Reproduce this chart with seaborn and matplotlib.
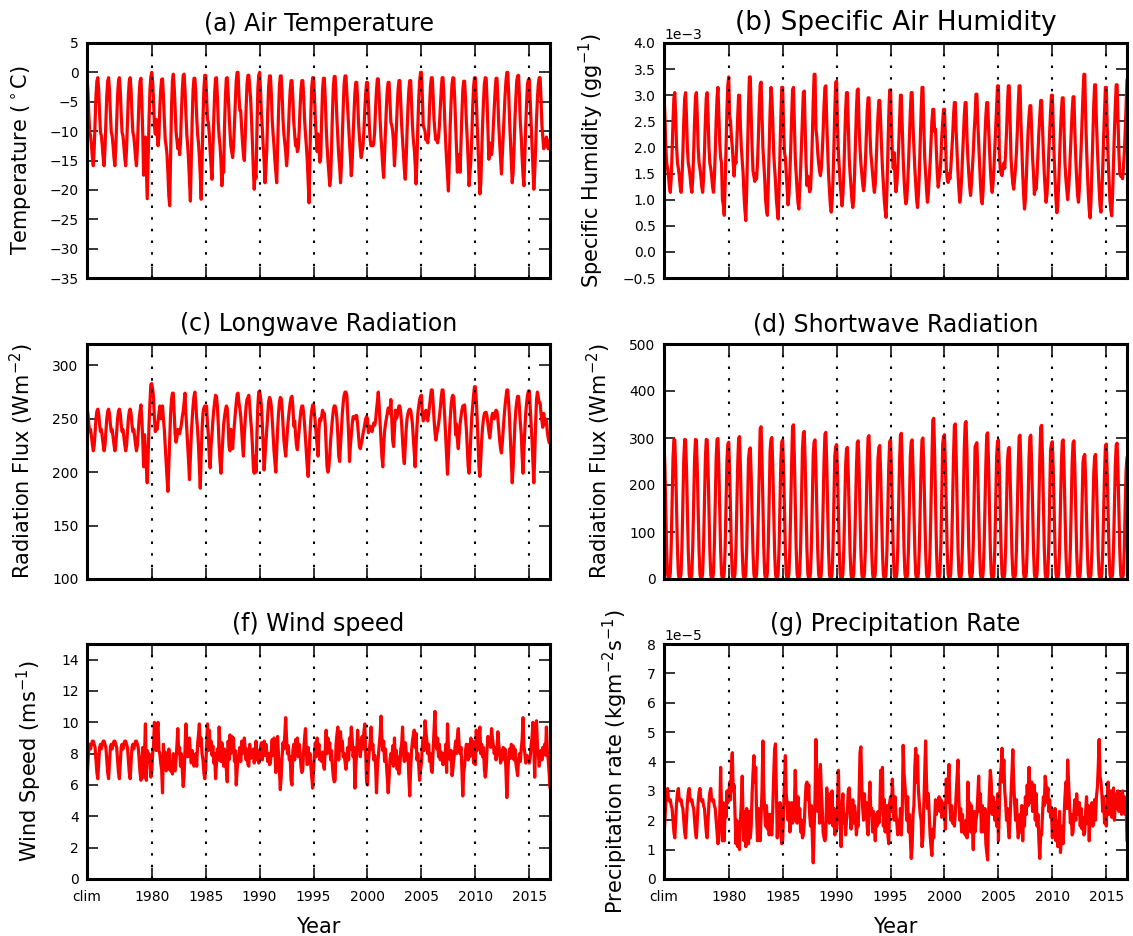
import numpy as np
import matplotlib
matplotlib.use("Agg")
import matplotlib.pyplot as plt
import seaborn as sns

# ---------------------------------------------------------------------------
# Forcing time series: five repeated climatological years (1974-1978, labelled
# "clim") followed by monthly values from Jan 1979 to Dec 2016.
# ---------------------------------------------------------------------------
start_year = 1974
clim_years = 5
tick_years = [1974, 1980, 1985, 1990, 1995, 2000, 2005, 2010, 2015]
tick_labels = ["clim", "1980", "1985", "1990", "1995", "2000", "2005", "2010", "2015"]
marker_years = [1980, 1985, 1990, 1995, 2000, 2005, 2010, 2015]

# Air temperature (deg C)
clim_air_temp = [-0.9, -3.0, -7.0, -10.2, -10.8, -12.5, -14.5, -15.9, -13.0, -8.5, -4.0, -1.5]
air_temp = [
    -1.0, -5.0, -10.5, -17.5, -12.0, -11.0, -16.0, -21.5, -15.0, -8.0, -3.0, -0.8,   # 1979
    0.0, -1.5, -4.8, -9.0, -10.5, -8.0, -10.5, -12.5, -11.0, -6.0, -3.0, -1.2,       # 1980
    -1.1, -4.0, -8.0, -11.4, -12.5, -14.0, -17.0, -21.0, -22.7, -14.0, -6.0, -1.5,
    -0.3, -2.5, -6.0, -10.0, -11.5, -13.0, -11.5, -14.0, -12.0, -7.0, -3.0, -0.5,
    -0.3, -3.0, -7.0, -10.5, -12.5, -15.0, -18.5, -21.9, -15.0, -8.0, -3.0, -1.0,
    -1.0, -3.5, -7.5, -10.5, -12.0, -14.5, -17.5, -21.6, -15.0, -8.0, -3.0, -0.5,
    -0.5, -4.0, -8.0, -8.5, -10.5, -13.5, -16.0, -18.2, -13.0, -8.0, -3.5, -1.0,     # 1985
    -0.9, -4.0, -8.5, -11.0, -12.5, -15.0, -19.3, -16.5, -17.0, -9.0, -4.0, -1.0,
    -0.9, -3.5, -7.0, -10.0, -12.5, -13.5, -14.5, -12.5, -9.0, -5.0, -1.5, 0.0,
    0.0, -4.0, -6.5, -6.5, -9.5, -12.0, -14.0, -15.0, -11.0, -6.0, -2.0, -0.5,
    -0.5, -2.5, -4.5, -8.0, -12.0, -16.5, -19.9, -17.0, -18.0, -10.0, -3.0, -0.5,
    0.0, -3.0, -7.0, -9.5, -12.5, -15.0, -18.8, -16.5, -13.0, -7.0, -2.5, -0.6,      # 1990
    -0.6, -3.5, -8.0, -10.5, -12.5, -15.0, -17.0, -18.8, -13.0, -7.0, -2.5, -0.6,
    -0.6, -3.5, -8.0, -10.5, -12.0, -13.5, -15.9, -14.0, -10.0, -6.0, -3.0, -1.4,
    -1.4, -4.5, -8.5, -10.5, -12.5, -11.5, -13.5, -13.0, -10.0, -6.0, -3.0, -1.4,
    -1.4, -4.0, -8.0, -10.5, -12.5, -15.0, -18.5, -22.2, -14.0, -7.0, -2.5, -0.9,
    -0.9, -4.0, -8.0, -11.0, -13.5, -10.5, -12.0, -15.3, -14.5, -8.0, -3.0, -1.0,    # 1995
    -1.0, -4.5, -9.0, -12.5, -15.0, -17.0, -19.3, -18.0, -13.0, -7.0, -2.5, -0.7,
    -0.7, -4.0, -8.0, -11.0, -14.2, -16.0, -18.8, -16.0, -11.0, -6.0, -2.0, -0.6,
    -0.6, -3.5, -6.5, -9.5, -12.0, -14.5, -17.6, -15.0, -11.0, -7.0, -3.5, -1.7,
    -1.7, -4.5, -8.5, -11.0, -13.0, -14.5, -13.5, -12.5, -10.0, -6.5, -3.5, -1.7,
    -1.7, -5.0, -9.0, -11.5, -12.5, -12.0, -12.5, -12.0, -10.0, -6.0, -3.0, -1.1,    # 2000
    -1.1, -4.0, -8.0, -11.0, -13.5, -16.0, -17.9, -14.0, -10.0, -6.0, -3.0, -1.7,
    -1.7, -5.0, -8.5, -9.0, -10.0, -12.0, -15.9, -13.0, -10.0, -6.0, -3.0, -1.4,
    -1.4, -5.0, -9.0, -11.5, -14.0, -16.5, -18.2, -15.0, -10.0, -6.0, -3.0, -1.4,
    -1.4, -5.0, -9.0, -11.5, -13.0, -15.5, -19.0, -15.0, -9.0, -4.5, -1.5, 0.0,
    0.0, -4.0, -9.0, -9.5, -10.0, -11.5, -11.0, -12.0, -10.5, -6.0, -2.5, -0.9,      # 2005
    -0.9, -4.0, -8.0, -10.0, -11.5, -11.0, -12.0, -11.0, -9.0, -6.0, -3.0, -0.9,
    -0.9, -4.0, -8.5, -12.0, -15.0, -17.5, -20.2, -15.0, -9.0, -5.0, -2.0, -0.9,
    -1.0, -4.5, -9.0, -13.0, -17.0, -14.0, -15.0, -17.0, -12.0, -7.0, -3.0, -1.5,
    -1.5, -4.5, -8.5, -11.5, -15.0, -19.3, -17.0, -15.0, -11.0, -6.0, -2.5, -0.9,
    -0.9, -4.5, -9.0, -13.0, -17.0, -20.7, -19.0, -14.0, -9.0, -5.0, -2.0, -0.9,     # 2010
    -1.0, -5.0, -10.0, -14.8, -12.0, -13.0, -14.0, -12.5, -9.0, -6.0, -3.0, -1.0,
    -1.0, -4.5, -9.0, -12.0, -14.5, -17.3, -14.0, -11.0, -7.0, -4.0, -1.5, 0.0,
    0.0, -3.5, -8.0, -11.5, -15.0, -18.8, -17.0, -13.0, -8.0, -4.5, -1.5, -0.6,
    -0.5, -4.0, -8.5, -11.0, -14.5, -17.5, -19.3, -14.0, -9.0, -5.0, -2.0, -1.2,
    -1.2, -5.0, -9.0, -13.0, -16.5, -19.9, -17.0, -13.0, -8.0, -4.5, -2.0, -0.9,     # 2015
    -0.9, -4.5, -9.0, -11.0, -13.0, -11.5, -12.5, -11.0, -12.0, -13.0, -12.0, -11.5,
]

# Specific humidity (g/kg; plotted in g/g)
clim_humidity = [3.05, 2.6, 2.0, 1.7, 1.6, 1.45, 1.25, 1.14, 1.4, 1.9, 2.5, 2.95]
humidity = [
    3.15, 2.6, 2.1, 1.8, 1.7, 1.0, 0.9, 0.7, 1.3, 2.0, 2.7, 3.2,          # 1979
    3.35, 2.6, 2.5, 2.2, 2.0, 1.7, 1.45, 1.8, 1.7, 2.1, 2.6, 3.0,         # 1980
    3.0, 2.4, 2.0, 1.75, 1.5, 1.1, 0.8, 0.6, 1.2, 2.0, 2.8, 3.35,
    3.35, 2.6, 2.0, 1.55, 1.45, 1.35, 1.5, 1.4, 1.7, 2.2, 2.8, 3.2,
    3.25, 2.6, 2.0, 1.7, 1.4, 1.0, 0.8, 0.7, 1.3, 2.0, 2.7, 3.15,
    2.95, 2.5, 1.9, 1.6, 1.35, 1.0, 0.8, 0.63, 1.2, 1.9, 2.6, 3.15,
    3.15, 2.4, 1.9, 1.8, 1.5, 1.2, 0.9, 1.1, 1.5, 2.0, 2.6, 3.1,          # 1985
    3.15, 2.5, 1.8, 1.5, 1.2, 0.95, 0.82, 1.2, 1.6, 2.1, 2.6, 3.05,
    3.08, 2.4, 1.7, 1.27, 1.45, 1.3, 1.15, 1.2, 1.6, 2.2, 2.9, 3.4,
    3.4, 2.35, 2.2, 1.9, 1.7, 1.55, 1.46, 1.6, 1.9, 2.3, 2.8, 3.15,
    3.18, 2.5, 2.0, 1.5, 1.2, 0.9, 0.76, 0.95, 1.4, 2.0, 2.7, 3.25,
    3.27, 2.4, 1.9, 1.6, 1.3, 1.1, 0.88, 1.1, 1.5, 2.1, 2.7, 3.05,        # 1990
    3.05, 2.4, 1.8, 1.5, 1.25, 1.0, 0.85, 1.0, 1.5, 2.1, 2.7, 3.1,
    3.12, 2.4, 2.0, 1.7, 1.5, 1.3, 1.17, 1.3, 1.7, 2.2, 2.7, 2.95,
    2.95, 2.3, 1.9, 1.7, 1.5, 1.3, 1.14, 1.3, 1.7, 2.2, 2.6, 2.9,
    2.9, 2.5, 2.0, 1.6, 1.3, 1.0, 0.8, 0.66, 1.2, 1.9, 2.6, 3.1,
    3.1, 2.4, 1.9, 1.6, 1.9, 1.4, 1.15, 1.3, 1.6, 2.0, 2.5, 3.0,          # 1995
    3.0, 2.4, 1.8, 1.4, 1.1, 0.92, 1.0, 1.3, 1.7, 2.2, 2.7, 3.05,
    3.05, 2.4, 2.0, 1.6, 1.3, 1.0, 0.85, 1.1, 1.5, 2.1, 2.7, 3.15,
    3.15, 2.4, 1.8, 1.5, 1.2, 0.95, 1.1, 1.4, 1.7, 2.1, 2.5, 2.73,
    2.73, 2.3, 2.35, 1.9, 1.5, 1.24, 1.4, 1.5, 1.8, 2.2, 2.5, 2.73,
    2.73, 2.2, 1.6, 1.4, 1.33, 1.5, 1.4, 1.6, 1.9, 2.2, 2.6, 2.86,        # 2000
    2.86, 2.3, 1.9, 1.5, 1.2, 0.95, 1.1, 1.4, 1.8, 2.2, 2.6, 2.86,
    2.86, 2.2, 1.8, 1.5, 1.25, 1.08, 1.3, 1.6, 1.9, 2.3, 2.6, 3.02,
    3.02, 2.5, 2.1, 1.7, 1.3, 1.0, 0.92, 1.2, 1.7, 2.2, 2.6, 2.86,
    2.86, 2.4, 2.0, 1.6, 1.3, 1.14, 1.3, 1.6, 2.0, 2.4, 2.8, 3.18,
    3.18, 1.9, 1.6, 1.5, 1.46, 1.6, 1.7, 1.6, 1.9, 2.3, 2.8, 3.18,        # 2005
    3.18, 2.5, 1.8, 1.5, 1.3, 1.2, 1.4, 1.6, 1.9, 2.3, 2.8, 3.18,
    3.18, 2.5, 2.0, 1.5, 1.1, 0.82, 1.0, 1.4, 1.9, 2.3, 2.6, 2.8,
    2.8, 2.3, 1.8, 1.5, 1.1, 1.3, 1.2, 1.5, 1.9, 2.3, 2.6, 2.9,
    2.9, 2.4, 1.9, 1.5, 1.2, 0.95, 1.1, 1.4, 1.9, 2.3, 2.7, 3.0,
    3.0, 2.4, 1.8, 1.4, 1.0, 0.75, 0.9, 1.3, 1.8, 2.3, 2.7, 2.95,         # 2010
    2.95, 2.3, 1.7, 1.4, 1.2, 1.0, 1.2, 1.5, 1.9, 2.3, 2.7, 2.97,
    2.97, 2.3, 1.8, 1.4, 1.1, 0.95, 1.2, 1.6, 2.0, 2.5, 3.0, 3.4,
    3.4, 2.6, 2.0, 1.5, 1.1, 0.8, 0.65, 1.0, 1.6, 2.2, 2.8, 3.2,
    3.2, 2.5, 2.0, 1.6, 1.2, 0.9, 0.76, 1.1, 1.6, 2.2, 2.7, 3.15,
    3.15, 2.4, 1.8, 1.4, 1.0, 0.8, 0.69, 1.1, 1.7, 2.3, 2.8, 3.2,         # 2015
    3.2, 2.5, 1.9, 1.5, 1.45, 1.5, 1.4, 1.6, 1.9, 2.3, 2.8, 3.3,
]

# Downward longwave radiation (W m-2)
clim_longwave = [259, 255, 245, 238, 240, 233, 226, 220, 225, 238, 250, 257]
longwave = [
    263, 250, 230, 205, 235, 220, 205, 190, 215, 245, 265, 282,   # 1979
    283, 278, 270, 250, 238, 245, 240, 248, 255, 262, 250, 258,   # 1980
    262, 250, 240, 225, 210, 195, 182, 205, 230, 255, 268, 274,
    274, 255, 236, 228, 232, 240, 238, 236, 240, 245, 252, 257,
    265, 274, 255, 240, 225, 210, 193, 215, 235, 250, 262, 271,
    275, 265, 250, 240, 225, 205, 185, 215, 240, 255, 260, 262,
    258, 262, 245, 235, 215, 204, 225, 235, 248, 258, 266, 272,   # 1985
    271, 262, 245, 225, 210, 199, 215, 230, 245, 252, 258, 262,
    260, 245, 224, 220, 240, 230, 222, 235, 245, 255, 265, 273,
    274, 265, 260, 252, 240, 225, 215, 235, 250, 262, 268, 270,
    272, 262, 250, 240, 225, 205, 199, 215, 200, 235, 262, 275,
    276, 270, 262, 245, 225, 202, 215, 228, 240, 255, 266, 270,   # 1990
    268, 262, 250, 235, 220, 210, 200, 220, 240, 255, 265, 270,
    269, 260, 245, 230, 222, 215, 228, 240, 250, 258, 265, 270,
    271, 262, 243, 248, 235, 225, 221, 230, 240, 250, 258, 262,
    262, 255, 245, 232, 218, 205, 196, 215, 235, 250, 258, 263,
    263, 255, 245, 235, 225, 215, 240, 250, 248, 252, 258, 255,   # 1995
    255, 245, 225, 205, 200, 205, 215, 230, 240, 250, 258, 262,
    262, 258, 250, 235, 215, 210, 225, 240, 255, 265, 272, 275,
    275, 272, 255, 236, 210, 225, 235, 245, 252, 252, 250, 253,
    253, 245, 235, 224, 222, 226, 230, 236, 240, 245, 250, 252,
    250, 237, 240, 243, 240, 238, 242, 246, 244, 248, 258, 266,   # 2000
    275, 262, 245, 230, 215, 205, 225, 238, 245, 250, 255, 260,
    260, 255, 268, 250, 230, 224, 240, 258, 250, 252, 258, 262,
    262, 255, 245, 230, 215, 208, 225, 240, 250, 255, 258, 259,
    258, 252, 245, 232, 218, 205, 225, 242, 255, 262, 268, 271,
    272, 255, 248, 250, 255, 258, 252, 248, 255, 262, 270, 277,   # 2005
    277, 265, 250, 238, 230, 236, 240, 245, 252, 260, 270, 277,
    277, 265, 250, 232, 212, 198, 215, 235, 250, 262, 270, 272,
    270, 255, 235, 245, 230, 222, 235, 245, 252, 258, 262, 262,
    263, 252, 240, 222, 205, 199, 215, 235, 252, 262, 272, 280,
    280, 268, 250, 228, 205, 196, 212, 230, 242, 250, 255, 256,   # 2010
    256, 252, 245, 238, 232, 240, 250, 255, 252, 250, 256, 258,
    257, 250, 240, 230, 222, 218, 228, 240, 252, 262, 270, 277,
    277, 265, 250, 230, 210, 190, 205, 225, 245, 258, 266, 271,
    271, 260, 246, 236, 215, 199, 220, 240, 255, 265, 272, 276,
    276, 260, 245, 230, 210, 190, 215, 245, 268, 275, 270, 265,   # 2015
    265, 255, 248, 242, 255, 245, 250, 248, 238, 232, 228, 227,
]

# Downward shortwave radiation (W m-2)
clim_shortwave = [296, 235, 145, 60, 10, 0, 0, 12, 70, 165, 255, 297]
shortwave = [
    299, 236, 147, 60, 10, 0, 0, 12, 66, 161, 251, 287,   # 1979
    291, 230, 143, 58, 10, 0, 0, 12, 64, 157, 244, 299,   # 1980
    303, 239, 148, 61, 11, 0, 0, 12, 67, 164, 255, 275,
    279, 220, 137, 56, 10, 0, 0, 11, 61, 151, 234, 320,
    324, 256, 159, 65, 11, 0, 0, 13, 71, 175, 272, 297,
    301, 238, 147, 60, 11, 0, 0, 12, 66, 163, 253, 292,
    296, 234, 145, 59, 10, 0, 0, 12, 65, 160, 249, 324,   # 1985
    328, 259, 161, 66, 11, 0, 0, 13, 72, 177, 276, 310,
    314, 248, 154, 63, 11, 0, 0, 13, 69, 170, 264, 292,
    296, 234, 145, 59, 10, 0, 0, 12, 65, 160, 249, 308,
    312, 246, 153, 62, 11, 0, 0, 12, 69, 168, 262, 282,
    286, 226, 140, 57, 10, 0, 0, 11, 63, 154, 240, 276,   # 1990
    280, 221, 137, 56, 10, 0, 0, 11, 62, 151, 235, 290,
    294, 232, 144, 59, 10, 0, 0, 12, 65, 159, 247, 301,
    305, 241, 149, 61, 11, 0, 0, 12, 67, 165, 256, 280,
    284, 224, 139, 57, 10, 0, 0, 11, 62, 153, 239, 292,
    296, 234, 145, 59, 10, 0, 0, 12, 65, 160, 249, 306,   # 1995
    310, 245, 152, 62, 11, 0, 0, 12, 68, 167, 260, 292,
    296, 234, 145, 59, 10, 0, 0, 12, 65, 160, 249, 296,
    300, 237, 147, 60, 11, 0, 0, 12, 66, 162, 252, 338,
    342, 270, 168, 68, 12, 0, 0, 14, 75, 185, 287, 303,
    307, 243, 150, 61, 11, 0, 0, 12, 68, 166, 258, 326,   # 2000
    330, 261, 162, 66, 12, 0, 0, 13, 73, 178, 277, 331,
    335, 265, 164, 67, 12, 0, 0, 13, 74, 181, 281, 286,
    290, 229, 142, 58, 10, 0, 0, 12, 64, 157, 244, 307,
    311, 246, 152, 62, 11, 0, 0, 12, 68, 168, 261, 292,
    296, 234, 145, 59, 10, 0, 0, 12, 65, 160, 249, 276,   # 2005
    280, 221, 137, 56, 10, 0, 0, 11, 62, 151, 235, 302,
    306, 242, 150, 61, 11, 0, 0, 12, 67, 165, 257, 302,
    306, 242, 150, 61, 11, 0, 0, 12, 67, 165, 257, 323,
    327, 258, 160, 65, 11, 0, 0, 13, 72, 177, 275, 288,
    292, 231, 143, 58, 10, 0, 0, 12, 64, 158, 245, 292,   # 2010
    296, 234, 145, 59, 10, 0, 0, 12, 65, 160, 249, 290,
    294, 232, 144, 59, 10, 0, 0, 12, 65, 159, 247, 261,
    265, 209, 130, 53, 9, 0, 0, 11, 58, 143, 223, 261,
    265, 209, 130, 53, 9, 0, 0, 11, 58, 143, 223, 283,
    287, 227, 141, 57, 10, 0, 0, 11, 63, 155, 241, 285,   # 2015
    289, 228, 142, 58, 10, 0, 0, 12, 64, 156, 230, 259,
]

# 10 m wind speed (m s-1)
clim_wind = [6.4, 7.4, 8.4, 8.6, 8.3, 8.6, 8.8, 8.8, 8.6, 8.4, 7.6, 6.8]
wind = [
    6.3, 7.5, 8.4, 6.5, 8.0, 9.9, 6.3, 8.2, 7.5, 8.0, 7.6, 6.5,     # 1979
    6.8, 8.0, 8.5, 10.0, 8.8, 8.2, 9.5, 10.0, 8.2, 8.0, 7.4, 7.0,   # 1980
    5.5, 8.6, 7.5, 8.1, 6.9, 8.0, 7.0, 8.3, 7.6, 6.9, 7.4, 6.7,
    8.0, 7.0, 6.9, 7.6, 8.5, 9.6, 8.0, 8.4, 7.2, 8.0, 7.0, 5.9,
    6.6, 8.3, 9.9, 8.8, 7.8, 8.4, 9.0, 8.0, 7.4, 8.2, 7.8, 7.2,
    7.5, 8.0, 7.2, 8.6, 9.2, 9.9, 8.5, 9.0, 8.0, 7.6, 6.8, 6.4,
    7.0, 8.5, 9.9, 8.2, 9.5, 8.3, 8.8, 7.9, 8.5, 7.4, 8.0, 6.4,     # 1985
    7.4, 8.3, 7.6, 9.7, 8.4, 7.5, 8.7, 8.0, 7.2, 8.3, 7.5, 7.0,
    6.2, 8.8, 7.6, 9.2, 8.0, 9.1, 8.5, 9.0, 7.5, 8.2, 6.0, 7.0,
    7.6, 8.0, 8.4, 7.5, 8.8, 8.0, 8.4, 9.0, 8.2, 7.6, 8.3, 7.3,
    7.2, 8.6, 7.7, 8.2, 7.8, 8.3, 7.4, 8.0, 8.8, 7.6, 8.2, 7.4,
    7.8, 8.4, 8.7, 7.6, 8.2, 8.8, 7.9, 8.6, 8.1, 7.5, 8.0, 7.3,     # 1990
    7.4, 8.2, 8.9, 7.9, 9.0, 8.2, 6.8, 8.5, 9.1, 7.9, 7.0, 5.7,
    6.5, 7.8, 8.7, 8.3, 9.2, 10.3, 8.9, 8.0, 8.5, 7.6, 7.8, 6.3,
    6.0, 8.2, 8.6, 7.6, 8.9, 8.2, 9.0, 7.8, 8.6, 8.1, 7.2, 6.8,
    7.0, 8.2, 9.0, 9.6, 8.1, 7.3, 8.4, 7.6, 8.0, 7.2, 6.5, 5.8,
    7.0, 8.0, 8.7, 7.8, 9.0, 8.2, 8.6, 7.6, 8.0, 7.5, 8.1, 7.3,     # 1995
    7.0, 8.3, 9.5, 8.0, 9.0, 8.4, 8.7, 7.6, 8.2, 7.2, 6.5, 6.2,
    6.3, 8.6, 9.2, 9.7, 7.6, 8.8, 9.4, 8.2, 8.8, 7.8, 8.0, 7.5,
    7.0, 7.6, 8.4, 7.6, 9.0, 8.3, 9.7, 8.9, 7.8, 8.4, 5.8, 7.2,
    8.0, 9.5, 8.5, 8.8, 7.8, 8.5, 9.1, 8.3, 9.4, 9.9, 8.0, 6.2,
    6.0, 7.4, 8.2, 8.8, 9.7, 8.3, 8.6, 7.6, 7.9, 7.3, 5.5, 7.0,     # 2000
    7.8, 8.5, 9.2, 10.4, 9.0, 8.2, 8.8, 7.5, 8.3, 7.4, 6.6, 5.5,
    6.4, 7.6, 8.0, 7.4, 8.5, 7.2, 9.0, 7.5, 8.2, 7.0, 7.8, 6.7,
    7.2, 8.3, 8.6, 9.7, 8.0, 7.5, 8.7, 8.2, 7.6, 8.0, 6.5, 5.3,
    7.0, 8.2, 8.8, 9.2, 9.5, 8.4, 9.3, 7.6, 8.0, 7.2, 6.3, 7.0,
    7.4, 8.5, 9.0, 8.2, 10.1, 9.4, 8.8, 8.0, 8.6, 7.5, 8.0, 7.0,    # 2005
    6.8, 8.2, 9.4, 10.7, 8.8, 8.3, 9.0, 7.8, 8.6, 7.6, 8.1, 7.7,
    7.3, 8.0, 7.4, 8.6, 6.8, 9.9, 8.5, 8.0, 7.6, 8.2, 6.6, 7.0,
    7.6, 8.2, 8.8, 8.0, 9.1, 9.6, 8.5, 8.0, 8.4, 7.0, 5.3, 6.8,
    7.2, 8.2, 8.6, 8.4, 7.6, 8.6, 7.8, 9.0, 8.0, 8.8, 7.4, 8.0,
    7.3, 9.5, 8.2, 8.6, 9.1, 9.7, 8.0, 8.6, 7.8, 8.4, 7.0, 6.5,     # 2010
    7.0, 8.3, 9.1, 8.6, 8.9, 8.4, 9.6, 9.0, 8.5, 8.0, 8.4, 7.6,
    8.0, 9.4, 8.6, 8.1, 7.4, 8.2, 7.6, 8.4, 7.7, 8.3, 6.9, 5.2,
    6.6, 7.8, 8.3, 7.7, 8.6, 8.0, 8.5, 7.6, 8.3, 7.4, 7.0, 6.6,
    7.6, 8.0, 7.5, 8.3, 8.9, 10.3, 8.5, 8.0, 7.4, 7.9, 7.6, 7.8,
    7.4, 7.8, 8.6, 9.0, 10.0, 8.4, 6.5, 8.8, 10.1, 8.5, 8.0, 7.2,   # 2015
    7.9, 8.2, 7.6, 8.4, 8.0, 8.6, 7.9, 9.7, 8.2, 7.6, 6.8, 5.8,
]

# Precipitation rate (1e-5 kg m-2 s-1)
clim_precip = [1.4, 2.0, 2.6, 2.95, 3.08, 2.7, 2.65, 2.7, 2.5, 2.4, 2.0, 1.6]
precip = [
    1.2, 1.5, 2.2, 3.8, 2.4, 1.3, 2.6, 1.3, 2.5, 2.1, 3.0, 2.6,     # 1979
    2.8, 3.3, 2.7, 3.9, 4.3, 3.0, 3.2, 2.2, 1.2, 2.0, 1.1, 1.5,     # 1980
    1.0, 2.0, 2.6, 3.5, 2.0, 1.3, 2.3, 1.1, 2.4, 1.9, 1.2, 2.3,
    1.4, 1.8, 2.9, 3.6, 4.2, 3.3, 3.8, 2.2, 1.3, 2.4, 1.7, 1.3,
    2.2, 3.0, 4.7, 3.0, 2.3, 1.8, 2.5, 1.7, 2.2, 1.5, 2.2, 1.6,
    1.5, 2.4, 3.5, 4.4, 4.6, 3.0, 1.4, 2.4, 1.9, 2.6, 1.5, 1.2,
    1.3, 2.3, 3.4, 4.2, 2.9, 2.5, 2.0, 2.6, 1.6, 2.1, 2.6, 1.9,     # 1985
    2.0, 2.5, 3.7, 2.6, 1.9, 2.8, 2.0, 2.4, 1.6, 2.0, 1.4, 1.5,
    1.9, 2.6, 3.2, 3.3, 2.7, 3.2, 2.2, 1.8, 2.5, 1.4, 0.55, 1.7,
    2.8, 4.75, 3.6, 2.3, 3.7, 1.9, 3.9, 3.0, 2.4, 1.6, 1.4, 1.3,
    1.5, 3.1, 2.5, 2.9, 1.9, 2.6, 2.1, 3.0, 1.8, 2.4, 1.5, 2.0,
    1.7, 2.6, 3.7, 2.3, 1.9, 1.1, 2.5, 2.9, 1.9, 2.2, 1.5, 2.0,     # 1990
    2.4, 3.0, 3.1, 2.4, 1.7, 2.2, 2.7, 1.9, 2.5, 2.2, 1.5, 1.9,
    1.8, 2.8, 4.3, 4.5, 3.2, 2.4, 2.0, 2.9, 2.1, 2.6, 1.8, 1.5,
    2.5, 3.3, 2.3, 2.4, 1.6, 2.3, 2.0, 1.3, 2.2, 1.8, 2.3, 1.9,
    2.2, 3.7, 3.2, 3.8, 1.8, 2.7, 1.6, 2.2, 2.5, 1.5, 1.2, 2.6,
    2.8, 2.3, 3.4, 2.6, 2.0, 2.8, 2.2, 1.9, 1.5, 2.0, 1.6, 2.4,     # 1995
    1.5, 2.3, 4.55, 3.6, 3.2, 2.7, 2.0, 2.8, 1.6, 2.2, 1.4, 0.7,
    1.1, 2.2, 2.5, 3.8, 4.45, 3.3, 4.2, 3.0, 2.6, 2.2, 2.0, 1.1,
    1.4, 2.5, 3.6, 4.7, 3.3, 2.4, 2.9, 2.2, 1.5, 1.1, 0.8, 1.7,
    1.4, 2.0, 2.7, 2.2, 2.6, 2.4, 2.8, 2.3, 2.7, 2.1, 2.5, 2.2,
    2.6, 1.7, 3.4, 2.6, 3.2, 3.9, 2.5, 2.0, 2.5, 1.9, 2.2, 1.8,     # 2000
    2.2, 2.9, 3.5, 4.05, 2.7, 2.0, 2.4, 1.6, 2.2, 1.6, 1.9, 1.5,
    2.0, 1.4, 3.3, 2.2, 2.6, 1.6, 2.5, 1.9, 1.0, 2.3, 1.6, 2.0,
    2.2, 2.8, 3.5, 2.3, 2.9, 1.6, 2.5, 2.0, 1.6, 2.4, 1.2, 0.9,
    0.65, 2.2, 3.0, 3.7, 3.3, 2.2, 2.8, 2.4, 2.0, 2.6, 1.8, 2.9,
    1.3, 2.4, 3.4, 3.8, 4.45, 3.3, 4.05, 3.0, 2.6, 2.0, 2.4, 1.8,   # 2005
    1.4, 2.1, 2.9, 3.6, 4.4, 3.3, 2.6, 2.0, 2.7, 1.9, 1.4, 1.7,
    2.2, 1.6, 2.5, 1.3, 2.4, 1.8, 2.8, 2.2, 3.2, 2.5, 3.8, 2.8,
    2.6, 3.3, 2.3, 2.7, 3.2, 2.0, 2.9, 1.8, 2.2, 1.3, 0.7, 1.5,
    1.5, 2.2, 2.8, 2.5, 3.5, 3.2, 2.6, 3.1, 2.3, 2.7, 2.1, 2.4,
    1.4, 2.3, 1.6, 2.4, 1.3, 2.0, 1.1, 1.6, 2.3, 0.9, 1.4, 1.8,     # 2010
    1.2, 2.1, 2.8, 3.3, 2.4, 4.05, 3.3, 2.6, 1.9, 2.2, 1.5, 1.6,
    2.3, 2.7, 2.0, 2.9, 2.4, 2.2, 2.6, 1.8, 2.4, 1.7, 2.1, 1.5,
    1.6, 2.3, 2.8, 1.9, 2.5, 1.3, 2.3, 2.0, 2.6, 1.8, 2.2, 2.7,
    2.0, 2.8, 3.1, 3.8, 4.75, 3.5, 3.3, 2.9, 2.3, 2.8, 1.9, 2.3,
    1.8, 2.6, 3.3, 2.2, 2.8, 3.0, 2.1, 2.6, 3.1, 2.0, 2.5, 2.9,     # 2015
    2.4, 3.0, 2.3, 2.7, 2.9, 2.2, 3.0, 2.4, 2.8, 2.2, 2.6, 1.3,
]


def full_series(clim, record):
    """Climatological years followed by the monthly record, with decimal-year times."""
    values = np.concatenate([np.tile(clim, clim_years), np.asarray(record, dtype=float)])
    time = start_year + np.arange(values.size) / 12.0
    return time, values


sns.set_style("ticks")
plt.rcParams.update({
    "font.family": ["DejaVu Sans"],
    "text.color": "black",
    "axes.labelcolor": "black",
    "axes.edgecolor": "black",
    "xtick.color": "black",
    "ytick.color": "black",
    "axes.linewidth": 2.2,
    "xtick.direction": "in",
    "ytick.direction": "in",
    "xtick.top": True,
    "ytick.right": True,
    "xtick.major.size": 8,
    "ytick.major.size": 8,
    "xtick.major.width": 1.1,
    "ytick.major.width": 1.1,
    "xtick.major.pad": 8,
    "ytick.major.pad": 6,
    "xtick.labelsize": 10,
    "ytick.labelsize": 10,
})

fig = plt.figure(figsize=(11.33, 9.36), dpi=100)
W, H = 1133.0, 936.0
col_left = [87, 664]
row_top = [43, 344, 644]
ax_w, ax_h = 463, 235

panels = [
    dict(clim=clim_air_temp, data=air_temp, scale=1.0, title="(a) Air Temperature", tsize=17,
         ylabel=r"Temperature ($^\circ$C)", ylim=(-35, 5), yticks=np.arange(-35, 6, 5), sci=False),
    dict(clim=clim_humidity, data=humidity, scale=1e-3, title="(b) Specific Air Humidity", tsize=19,
         ylabel=r"Specific Humidity (gg$^{-1}$)", ylim=(-0.5e-3, 4.0e-3),
         yticks=np.arange(-0.5, 4.01, 0.5) * 1e-3, sci=True),
    dict(clim=clim_longwave, data=longwave, scale=1.0, title="(c) Longwave Radiation", tsize=17,
         ylabel=r"Radiation Flux (Wm$^{-2}$)", ylim=(100, 320), yticks=np.arange(100, 301, 50), sci=False),
    dict(clim=clim_shortwave, data=shortwave, scale=1.0, title="(d) Shortwave Radiation", tsize=17,
         ylabel=r"Radiation Flux (Wm$^{-2}$)", ylim=(0, 500), yticks=np.arange(0, 501, 100), sci=False),
    dict(clim=clim_wind, data=wind, scale=1.0, title="(f) Wind speed", tsize=17,
         ylabel=r"Wind Speed (ms$^{-1}$)", ylim=(0, 15), yticks=np.arange(0, 15, 2), sci=False),
    dict(clim=clim_precip, data=precip, scale=1e-5, title="(g) Precipitation Rate", tsize=17,
         ylabel=r"Precipitation rate (kgm$^{-2}$s$^{-1}$)", ylim=(0, 8e-5),
         yticks=np.arange(0, 8.01, 1) * 1e-5, sci=True),
]

for i, p in enumerate(panels):
    r, c = divmod(i, 2)
    left = col_left[c] / W
    bottom = 1 - (row_top[r] + ax_h) / H
    ax = fig.add_axes([left, bottom, ax_w / W, ax_h / H])

    t, v = full_series(p["clim"], p["data"])
    sns.lineplot(x=t, y=v * p["scale"], ax=ax, color="red", linewidth=2.3,
                 estimator=None, zorder=2)

    for yr in marker_years:
        ax.axvline(yr, color="black", linewidth=1.5, linestyle=(0, (1.2, 4.4)), zorder=3)

    ax.set_xlim(t[0], t[-1])
    ax.set_ylim(*p["ylim"])
    ax.set_yticks(p["yticks"])
    ax.set_xticks(tick_years)
    if r == 2:
        ax.set_xticklabels(tick_labels)
        ax.set_xlabel("Year", fontsize=15, labelpad=9)
    else:
        ax.set_xticklabels([])
        ax.set_xlabel("")
    if p["sci"]:
        ax.ticklabel_format(axis="y", style="sci", scilimits=(0, 0))
        ax.yaxis.get_offset_text().set_fontsize(10)
    ax.set_ylabel(p["ylabel"], fontsize=15, labelpad=12)
    ax.set_title(p["title"], fontsize=p["tsize"], pad=9)
    for s in ax.spines.values():
        s.set_linewidth(2.2)
        s.set_visible(True)

fig.savefig("out.png", dpi=100)
